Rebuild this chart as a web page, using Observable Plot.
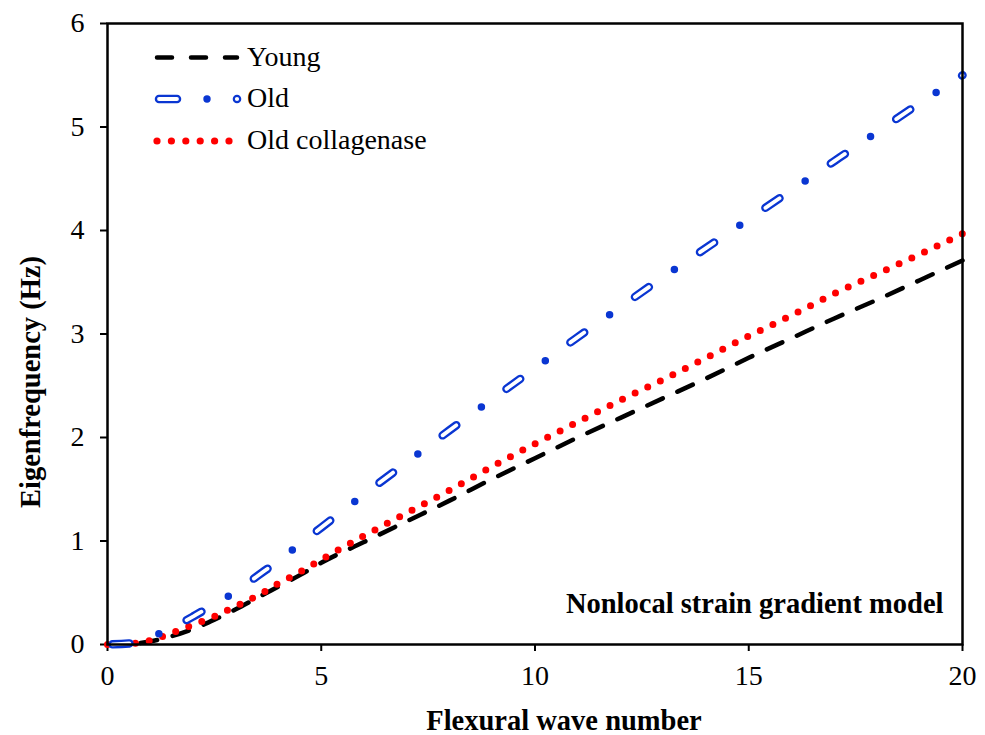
<!DOCTYPE html>
<html>
<head>
<meta charset="utf-8">
<script src="https://cdn.jsdelivr.net/npm/d3@7"></script>
<script src="https://cdn.jsdelivr.net/npm/@observablehq/plot@0.6"></script>
<style>
  html, body { margin: 0; padding: 0; background: #fff; }
  #chart { position: relative; width: 985px; height: 735px; }
  #chart svg { font-family: "Liberation Serif", "Times New Roman", serif; }
</style>
</head>
<body>
<div id="chart"></div>
<script>
// Flexural wave number (x)
const waveNumber = [0,0.5,1,1.5,2,2.5,3,3.5,4,4.5,5,6,7,8,9,10,11,12,13,14,15,16,17,18,19,20];
// Eigenfrequency (Hz)
const young = [0,0.005,0.03,0.08,0.15,0.24,0.34,0.45,0.56,0.67,0.79,0.99,1.19,1.39,1.60,1.80,2.00,2.19,2.38,2.57,2.77,2.96,3.15,3.33,3.52,3.71];
const old = [0,0.01,0.07,0.16,0.27,0.39,0.51,0.66,0.81,0.97,1.13,1.45,1.76,2.07,2.37,2.67,2.97,3.26,3.55,3.83,4.11,4.39,4.67,4.95,5.23,5.50];
const oldCollagenase = [0,0.005,0.04,0.11,0.19,0.27,0.37,0.47,0.59,0.70,0.82,1.05,1.27,1.49,1.72,1.94,2.15,2.36,2.56,2.77,2.98,3.18,3.39,3.58,3.77,3.97];
const seriesNames = ["Young", "Old", "Old collagenase"];
const xTicks = [0, 5, 10, 15, 20];
const yTicks = [0, 1, 2, 3, 4, 5, 6];
const xTitle = "Flexural wave number";
const yTitle = "Eigenfrequency (Hz)";
const note = "Nonlocal strain gradient model";

const BLUE = "#0a36d2", RED = "#ff0000";

const toRows = (ys) => waveNumber.map((x, i) => ({x, y: ys[i]}));
const youngRows = toRows(young), oldRows = toRows(old), collRows = toRows(oldCollagenase);

const chart = Plot.plot({
  width: 985,
  height: 735,
  marginLeft: 107,
  marginRight: 23,
  marginTop: 23,
  marginBottom: 91,
  style: {fontFamily: "Liberation Serif", fontSize: "28px", color: "#000", background: "#fff"},
  x: {domain: [0, 20]},
  y: {domain: [0, 6]},
  marks: [
    Plot.axisX({ticks: xTicks, tickFormat: d3.format("d"), tickSize: 7, tickPadding: 14, strokeWidth: 2, label: null, fontSize: 28}),
    Plot.axisY({ticks: yTicks, tickFormat: d3.format("d"), tickSize: 7, tickPadding: 16, strokeWidth: 2, label: null, fontSize: 28}),
    // Young: black dashed
    Plot.line(youngRows, {x: "x", y: "y", curve: "monotone-x", stroke: "#000", strokeWidth: 4.5,
      strokeDasharray: "17 16", strokeLinecap: "round"}),
    // Old collagenase: red dotted
    Plot.line(collRows, {x: "x", y: "y", curve: "monotone-x", stroke: RED, strokeWidth: 7,
      strokeDasharray: "0 14", strokeLinecap: "round"}),
    // Old: hollow dash + dot
    Plot.line(oldRows, {x: "x", y: "y", curve: "monotone-x", stroke: BLUE, strokeWidth: 8.5,
      strokeDasharray: "17 62", strokeDashoffset: -5, strokeLinecap: "round"}),
    Plot.line(oldRows, {x: "x", y: "y", curve: "monotone-x", stroke: "#fff", strokeWidth: 3.8,
      strokeDasharray: "17 62", strokeDashoffset: -5, strokeLinecap: "round"}),
    Plot.line(oldRows, {x: "x", y: "y", curve: "monotone-x", stroke: BLUE, strokeWidth: 7.5,
      strokeDasharray: "0 79", strokeDashoffset: -53, strokeLinecap: "round"}),
    Plot.frame({stroke: "#000", strokeWidth: 2.5}),
    Plot.text([note], {frameAnchor: "bottom-right", textAnchor: "end", lineAnchor: "bottom",
      dx: -19, dy: -32, fontWeight: "bold", fontSize: 28.5, fill: "#000"}),
    Plot.text([xTitle], {frameAnchor: "bottom", textAnchor: "middle", lineAnchor: "bottom",
      dx: 29, dy: 85, fontWeight: "bold", fontSize: 28.5, fill: "#000"}),
    Plot.text([yTitle], {frameAnchor: "left", textAnchor: "middle", lineAnchor: "middle", rotate: -90,
      dx: -77, dy: 48, fontWeight: "bold", fontSize: 28.5, fill: "#000"})
  ]
});

document.getElementById("chart").appendChild(chart);

// Legend (inside the plot area, top-left)
const svg = d3.select(chart);
const lg = svg.append("g").attr("class", "legend").attr("text-anchor", "start");
const textX = 247;
const rowsY = [57.5, 99, 141];
const labelBase = [66, 107, 149];
// Young sample
lg.append("line").attr("x1", 157).attr("x2", 237).attr("y1", rowsY[0]).attr("y2", rowsY[0])
  .attr("stroke", "#000").attr("stroke-width", 4.5).attr("stroke-linecap", "round")
  .attr("stroke-dasharray", "15 19");
// Old sample
lg.append("line").attr("x1", 159).attr("x2", 177).attr("y1", rowsY[1]).attr("y2", rowsY[1])
  .attr("stroke", BLUE).attr("stroke-width", 8.5).attr("stroke-linecap", "round");
lg.append("line").attr("x1", 159).attr("x2", 177).attr("y1", rowsY[1]).attr("y2", rowsY[1])
  .attr("stroke", "#fff").attr("stroke-width", 3.8).attr("stroke-linecap", "round");
lg.append("circle").attr("cx", 207).attr("cy", rowsY[1]).attr("r", 3.7).attr("fill", BLUE);
lg.append("circle").attr("cx", 237).attr("cy", rowsY[1]).attr("r", 3.2).attr("fill", "#fff")
  .attr("stroke", BLUE).attr("stroke-width", 2.2);
// Old collagenase sample
[157, 171.4, 185.8, 200.2, 214.6, 229].forEach(cx =>
  lg.append("circle").attr("cx", cx).attr("cy", rowsY[2]).attr("r", 3.6).attr("fill", RED));
seriesNames.forEach((name, i) => {
  lg.append("text").attr("x", textX).attr("y", labelBase[i]).attr("fill", "#000")
    .attr("text-anchor", "start").attr("font-size", 28).attr("font-family", "Liberation Serif").text(name);
});
</script>
</body>
</html>
